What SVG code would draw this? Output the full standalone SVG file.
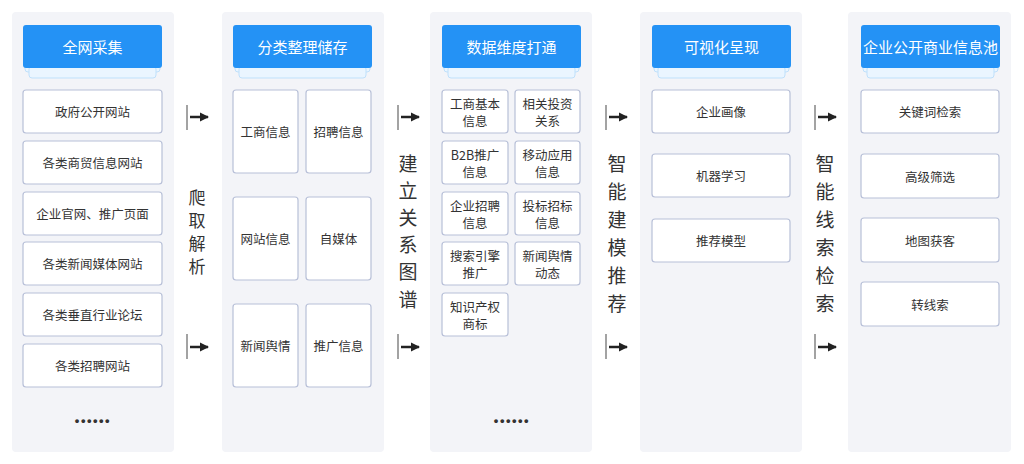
<svg xmlns="http://www.w3.org/2000/svg" width="1024" height="464" viewBox="0 0 1024 464">
<defs>
<marker id="ah" markerWidth="10" markerHeight="10" refX="8" refY="5" orient="auto" markerUnits="userSpaceOnUse">
<path d="M0,0.5 L9,5 L0,9.5 Z" fill="#222"/>
</marker>
</defs>
<style>
.panel{fill:#f3f4f8}
.hdr{fill:#2492f5}
.s1{fill:#eaf5ff;stroke:#bfe0fb;stroke-width:1}
.hdrt{font-family:"Noto Sans CJK SC","Noto Sans",sans-serif;font-size:15px;fill:#fff;text-anchor:middle;dominant-baseline:central}
.box{fill:#fff;stroke:#b8c0d8;stroke-width:1.2}
.t{font-family:"Noto Sans CJK SC","Noto Sans",sans-serif;font-size:12.5px;fill:#333;text-anchor:middle;dominant-baseline:central}
.v{font-family:"Noto Sans CJK SC","Noto Sans",sans-serif;font-size:19px;fill:#333;text-anchor:middle;dominant-baseline:central}
.vs{font-family:"Noto Sans CJK SC","Noto Sans",sans-serif;font-size:17px;fill:#333;text-anchor:middle;dominant-baseline:central}
.bar{stroke:#666;stroke-width:1.2}
.arr{stroke:#222;stroke-width:2.5;fill:none}
.dots{font-family:"Liberation Sans",sans-serif;font-size:13px;fill:#333;text-anchor:middle;font-weight:bold;letter-spacing:1.5px}
</style>
<rect x="0" y="0" width="1024" height="464" fill="#fff"/>

<g id="col1">
<rect class="panel" x="12" y="12" width="162" height="440" rx="4"/>
<rect class="s1" x="25" y="60" width="135" height="12" rx="3"/>
<rect class="s1" x="29" y="66" width="127" height="12" rx="3"/>
<rect class="hdr" x="23" y="25" width="139" height="43" rx="3"/>
<text class="hdrt" x="92.5" y="46.5">全网采集</text>
</g>
<g id="n1a"><rect class="box" x="23" y="90" width="139" height="43" rx="3"/><text class="t" x="92.5" y="111.5">政府公开网站</text></g>
<g id="n1b"><rect class="box" x="23" y="141" width="139" height="43" rx="3"/><text class="t" x="92.5" y="162.5">各类商贸信息网站</text></g>
<g id="n1c"><rect class="box" x="23" y="192" width="139" height="43" rx="3"/><text class="t" x="92.5" y="213.5">企业官网、推广页面</text></g>
<g id="n1d"><rect class="box" x="23" y="242" width="139" height="43" rx="3"/><text class="t" x="92.5" y="263.5">各类新闻媒体网站</text></g>
<g id="n1e"><rect class="box" x="23" y="293" width="139" height="43" rx="3"/><text class="t" x="92.5" y="314.5">各类垂直行业论坛</text></g>
<g id="n1f"><rect class="box" x="23" y="344" width="139" height="43" rx="3"/><text class="t" x="92.5" y="365.5">各类招聘网站</text></g>
<text class="dots" x="93" y="425">••••••</text>

<g id="col2">
<rect class="panel" x="222" y="12" width="162" height="440" rx="4"/>
<rect class="s1" x="235" y="60" width="135" height="12" rx="3"/>
<rect class="s1" x="239" y="66" width="127" height="12" rx="3"/>
<rect class="hdr" x="233" y="25" width="139" height="43" rx="3"/>
<text class="hdrt" x="302.5" y="46.5">分类整理储存</text>
</g>
<g id="n2a"><rect class="box" x="233" y="90" width="65" height="83" rx="3"/><text class="t" x="265.5" y="131.5">工商信息</text></g>
<g id="n2b"><rect class="box" x="306" y="90" width="65" height="83" rx="3"/><text class="t" x="338.5" y="131.5">招聘信息</text></g>
<g id="n2c"><rect class="box" x="233" y="197" width="65" height="83" rx="3"/><text class="t" x="265.5" y="238.5">网站信息</text></g>
<g id="n2d"><rect class="box" x="306" y="197" width="65" height="83" rx="3"/><text class="t" x="338.5" y="238.5">自媒体</text></g>
<g id="n2e"><rect class="box" x="233" y="304" width="65" height="83" rx="3"/><text class="t" x="265.5" y="345.5">新闻舆情</text></g>
<g id="n2f"><rect class="box" x="306" y="304" width="65" height="83" rx="3"/><text class="t" x="338.5" y="345.5">推广信息</text></g>

<g id="col3">
<rect class="panel" x="430" y="12" width="162" height="440" rx="4"/>
<rect class="s1" x="444" y="60" width="135" height="12" rx="3"/>
<rect class="s1" x="448" y="66" width="127" height="12" rx="3"/>
<rect class="hdr" x="442" y="25" width="139" height="43" rx="3"/>
<text class="hdrt" x="511.5" y="46.5">数据维度打通</text>
</g>
<g id="n3a"><rect class="box" x="442" y="90" width="66" height="43" rx="3"/><text class="t" x="475" y="103">工商基本</text><text class="t" x="475" y="120">信息</text></g>
<g id="n3b"><rect class="box" x="515" y="90" width="65" height="43" rx="3"/><text class="t" x="547.5" y="103">相关投资</text><text class="t" x="547.5" y="120">关系</text></g>
<g id="n3c"><rect class="box" x="442" y="141" width="66" height="43" rx="3"/><text class="t" x="475" y="154">B2B推广</text><text class="t" x="475" y="171">信息</text></g>
<g id="n3d"><rect class="box" x="515" y="141" width="65" height="43" rx="3"/><text class="t" x="547.5" y="154">移动应用</text><text class="t" x="547.5" y="171">信息</text></g>
<g id="n3e"><rect class="box" x="442" y="192" width="66" height="43" rx="3"/><text class="t" x="475" y="205">企业招聘</text><text class="t" x="475" y="222">信息</text></g>
<g id="n3f"><rect class="box" x="515" y="192" width="65" height="43" rx="3"/><text class="t" x="547.5" y="205">投标招标</text><text class="t" x="547.5" y="222">信息</text></g>
<g id="n3g"><rect class="box" x="442" y="242" width="66" height="43" rx="3"/><text class="t" x="475" y="255">搜索引擎</text><text class="t" x="475" y="272">推广</text></g>
<g id="n3h"><rect class="box" x="515" y="242" width="65" height="43" rx="3"/><text class="t" x="547.5" y="255">新闻舆情</text><text class="t" x="547.5" y="272">动态</text></g>
<g id="n3i"><rect class="box" x="442" y="293" width="66" height="43" rx="3"/><text class="t" x="475" y="306">知识产权</text><text class="t" x="475" y="323">商标</text></g>
<text class="dots" x="512" y="425">••••••</text>

<g id="col4">
<rect class="panel" x="640" y="12" width="162" height="440" rx="4"/>
<rect class="s1" x="654" y="60" width="135" height="12" rx="3"/>
<rect class="s1" x="658" y="66" width="127" height="12" rx="3"/>
<rect class="hdr" x="652" y="25" width="139" height="43" rx="3"/>
<text class="hdrt" x="721.5" y="46.5">可视化呈现</text>
</g>
<g id="n4a"><rect class="box" x="652" y="90" width="138" height="43" rx="3"/><text class="t" x="721" y="111.5">企业画像</text></g>
<g id="n4b"><rect class="box" x="652" y="154" width="138" height="43" rx="3"/><text class="t" x="721" y="175.5">机器学习</text></g>
<g id="n4c"><rect class="box" x="652" y="219" width="138" height="43" rx="3"/><text class="t" x="721" y="240.5">推荐模型</text></g>

<g id="col5">
<rect class="panel" x="848" y="12" width="163" height="440" rx="4"/>
<rect class="s1" x="863" y="60" width="135" height="12" rx="3"/>
<rect class="s1" x="867" y="66" width="127" height="12" rx="3"/>
<rect class="hdr" x="861" y="25" width="139" height="43" rx="3"/>
<text class="hdrt" x="930.5" y="46.5">企业公开商业信息池</text>
</g>
<g id="n5a"><rect class="box" x="861" y="90" width="138" height="43" rx="3"/><text class="t" x="930" y="111.5">关键词检索</text></g>
<g id="n5b"><rect class="box" x="861" y="154" width="138" height="44" rx="3"/><text class="t" x="930" y="176">高级筛选</text></g>
<g id="n5c"><rect class="box" x="861" y="218" width="138" height="44" rx="3"/><text class="t" x="930" y="240">地图获客</text></g>
<g id="n5d"><rect class="box" x="861" y="282" width="138" height="44" rx="3"/><text class="t" x="930" y="304">转线索</text></g>

<g id="connectors">
<line class="bar" x1="187" y1="105" x2="187" y2="130"/><line class="arr" x1="190" y1="117" x2="208" y2="117" marker-end="url(#ah)"/>
<line class="bar" x1="187" y1="334" x2="187" y2="359"/><line class="arr" x1="190" y1="347" x2="208" y2="347" marker-end="url(#ah)"/>
<line class="bar" x1="398" y1="105" x2="398" y2="130"/><line class="arr" x1="401" y1="117" x2="419" y2="117" marker-end="url(#ah)"/>
<line class="bar" x1="398" y1="334" x2="398" y2="359"/><line class="arr" x1="401" y1="347" x2="419" y2="347" marker-end="url(#ah)"/>
<line class="bar" x1="606" y1="105" x2="606" y2="130"/><line class="arr" x1="609" y1="117" x2="627" y2="117" marker-end="url(#ah)"/>
<line class="bar" x1="606" y1="334" x2="606" y2="359"/><line class="arr" x1="609" y1="347" x2="627" y2="347" marker-end="url(#ah)"/>
<line class="bar" x1="815" y1="105" x2="815" y2="130"/><line class="arr" x1="818" y1="117" x2="836" y2="117" marker-end="url(#ah)"/>
<line class="bar" x1="815" y1="334" x2="815" y2="359"/><line class="arr" x1="818" y1="347" x2="836" y2="347" marker-end="url(#ah)"/>
<g id="lbl1"><text class="vs" x="197" y="196">爬</text><text class="vs" x="197" y="219">取</text><text class="vs" x="197" y="242">解</text><text class="vs" x="197" y="265">析</text></g>
<g id="lbl2"><text class="v" x="408" y="162">建</text><text class="v" x="408" y="189">立</text><text class="v" x="408" y="216">关</text><text class="v" x="408" y="243">系</text><text class="v" x="408" y="270">图</text><text class="v" x="408" y="298">谱</text></g>
<g id="lbl3"><text class="v" x="617" y="162">智</text><text class="v" x="617" y="190">能</text><text class="v" x="617" y="218">建</text><text class="v" x="617" y="246">模</text><text class="v" x="617" y="274">推</text><text class="v" x="617" y="302">荐</text></g>
<g id="lbl4"><text class="v" x="825" y="162">智</text><text class="v" x="825" y="190">能</text><text class="v" x="825" y="218">线</text><text class="v" x="825" y="246">索</text><text class="v" x="825" y="274">检</text><text class="v" x="825" y="302">索</text></g>
</g>
</svg>
